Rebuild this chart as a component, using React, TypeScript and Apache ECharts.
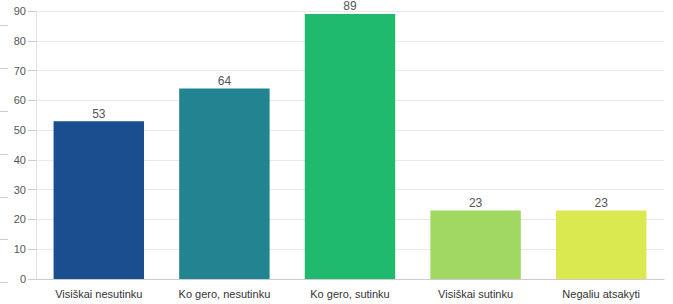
import React, { useEffect, useRef } from "react";
import * as echarts from "echarts";

const categories = [
  "Visiškai nesutinku",
  "Ko gero, nesutinku",
  "Ko gero, sutinku",
  "Visiškai sutinku",
  "Negaliu atsakyti",
];
const values = [53, 64, 89, 23, 23];
const colors = ["#1a4e8e", "#228391", "#1fba6d", "#a0d862", "#d9e94f"];
const yTicks = { min: 0, max: 90, interval: 10 };
const leftMarkYs = [25, 68, 111, 154, 197, 239, 282];

export default function App() {
  const ref = useRef<HTMLDivElement>(null);
  useEffect(() => {
    if (!ref.current) return;
    const chart = echarts.init(ref.current, null, { renderer: "svg" });
    chart.setOption({
      animation: false,
      textStyle: { fontFamily: "Liberation Sans, Arial, sans-serif" },
      grid: { left: 36, right: 9, top: 11, bottom: 25, containLabel: false },
      graphic: leftMarkYs.map((y) => ({
        type: "line",
        shape: { x1: 0, y1: y + 0.5, x2: 8, y2: y + 0.5 },
        style: { stroke: "#cccccc", lineWidth: 1 },
        silent: true,
      })),
      xAxis: {
        type: "category",
        data: categories,
        axisLine: { show: true, lineStyle: { color: "#cccccc" } },
        axisTick: { show: false },
        axisLabel: { color: "#333333", fontSize: 11, margin: 9 },
      },
      yAxis: {
        type: "value",
        min: yTicks.min,
        max: yTicks.max,
        interval: yTicks.interval,
        axisLine: { show: true, lineStyle: { color: "#e0e0e0" } },
        axisTick: { show: true, length: 8, lineStyle: { color: "#cccccc" } },
        axisLabel: { color: "#555555", fontSize: 11, margin: 10 },
        splitLine: { show: true, lineStyle: { color: "#e8e8e8" } },
      },
      series: [
        {
          type: "bar",
          data: values.map((v, i) => ({ value: v, itemStyle: { color: colors[i] } })),
          barWidth: "72%",
          label: {
            show: true,
            position: "top",
            color: "#555555",
            fontSize: 12,
            lineHeight: 11,
            distance: 2,
          },
        },
      ],
    });
    return () => chart.dispose();
  }, []);
  return (
    <div
      ref={ref}
      style={{ position: "absolute", left: 0, top: 0, width: 673, height: 304 }}
    />
  );
}
